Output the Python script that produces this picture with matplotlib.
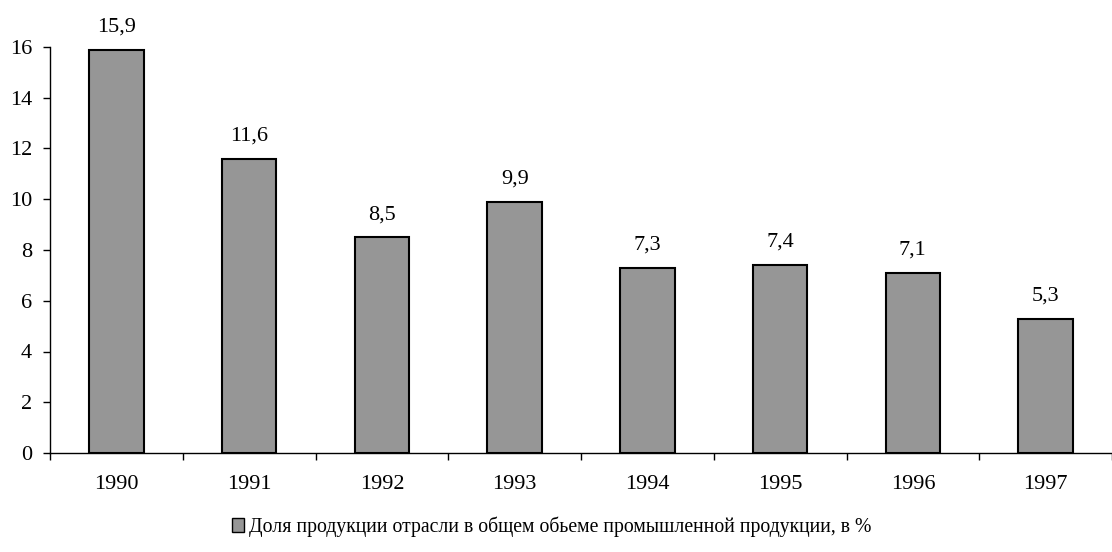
import matplotlib
matplotlib.use("Agg")
import matplotlib.pyplot as plt
from matplotlib.patches import Patch
import numpy as np

years = ["1990", "1991", "1992", "1993", "1994", "1995", "1996", "1997"]
values = [15.9, 11.6, 8.5, 9.9, 7.3, 7.4, 7.1, 5.3]
labels = ["15,9", "11,6", "8,5", "9,9", "7,3", "7,4", "7,1", "5,3"]
legend_label = "Доля продукции отрасли в общем обьеме промышленной продукции, в %"

plt.rcParams['font.family'] = ['Liberation Serif', 'DejaVu Serif']
FS = 16

fig = plt.figure(figsize=(11.12, 5.52), dpi=100)
ax = fig.add_axes([50/1112, 99/552, 1 - 50/1112, (453-47)/552])

x = np.arange(len(years))
ax.bar(x, values, width=0.41, color="#969696", edgecolor="black", linewidth=1.5)
for xi, v, lab in zip(x, values, labels):
    ax.text(xi, v + 0.52, lab, ha="center", va="bottom", fontsize=FS)

ax.set_xlim(-0.5, len(years) - 0.5)
ax.set_ylim(0, 16)
ax.set_yticks(np.arange(0, 17, 2))
ax.set_yticklabels([str(v) for v in range(0, 17, 2)], fontsize=FS)
ax.set_xticks(x)
ax.set_xticklabels(years, fontsize=FS)
ax.tick_params(axis="x", which="major", length=0, pad=16)
ax.set_xticks(np.arange(-0.5, len(years), 1), minor=True)
ax.tick_params(axis="x", which="minor", length=5, direction="out", width=1)
ax.tick_params(axis="y", length=5, width=1, pad=8)
for s in ["top", "right"]:
    ax.spines[s].set_visible(False)
ax.spines["left"].set_linewidth(1)
ax.spines["bottom"].set_linewidth(1)

handle = Patch(facecolor="#969696", edgecolor="black", linewidth=1)
fig.legend([handle], [legend_label], loc="center", bbox_to_anchor=(552/1112, 1 - 527/552),
           frameon=False, fontsize=14.2, handlelength=0.6, handleheight=0.7, handletextpad=0.25)

fig.savefig("out.png", dpi=100)
